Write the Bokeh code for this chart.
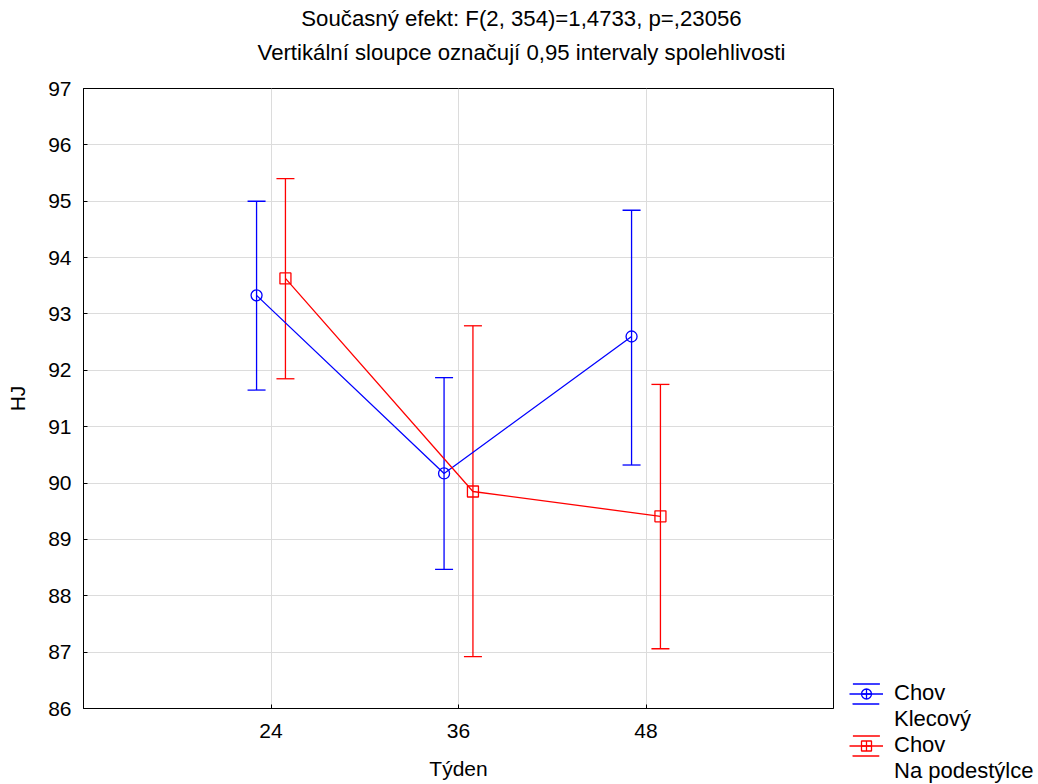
from bokeh.plotting import figure
from bokeh.layouts import column, row
from bokeh.models import (ColumnDataSource, Range1d, FixedTicker, Whisker, TeeHead,
                          Legend, LegendItem, Label)
from bokeh.embed import file_html
from bokeh.resources import INLINE

# ---- data ----
weeks = ["24", "36", "48"]
klec_mean = [93.33, 90.17, 92.60]
klec_low = [91.65, 88.47, 90.32]
klec_high = [95.00, 91.87, 94.84]
pod_mean = [93.63, 89.85, 89.41]
pod_low = [91.85, 86.92, 87.06]
pod_high = [95.40, 92.79, 91.75]
series_labels = [["Chov", "Klecový"], ["Chov", "Na podestýlce"]]
title_lines = ["Současný efekt: F(2, 354)=1,4733, p=,23056",
               "Vertikální sloupce označují 0,95 intervaly spolehlivosti"]
y_ticks = list(range(86, 98))

FONT = "Liberation Sans"
BLUE = "#0000ff"
RED = "#ff0000"
LW = 1.3
TOTAL_W, TOTAL_H = 1038, 784
TITLE_H = 76
MAIN_W = 840


def blank_fig(w, h):
    f = figure(width=w, height=h, output_backend="svg", toolbar_location=None,
               x_range=Range1d(0, w), y_range=Range1d(0, h),
               x_axis_location=None, y_axis_location=None, min_border=0)
    f.outline_line_color = None
    f.xgrid.visible = False
    f.ygrid.visible = False
    f.background_fill_color = "white"
    f.border_fill_color = "white"
    return f


# ---- title strip ----
tfig = blank_fig(TOTAL_W, TITLE_H)
for i, t in enumerate(title_lines):
    tfig.add_layout(Label(x=521, y=TITLE_H - 18 - 34 * i, text=t,
                          text_align="center", text_baseline="middle",
                          text_font=FONT, text_font_size="22.2px", text_color="black"))

# ---- main plot ----
p = figure(width=MAIN_W, height=TOTAL_H - TITLE_H, output_backend="svg",
           toolbar_location=None,
           x_range=Range1d(0, len(weeks) + 1), y_range=Range1d(y_ticks[0], y_ticks[-1]),
           min_border_left=83, min_border_right=MAIN_W - 833, min_border_top=88 - TITLE_H,
           min_border_bottom=76)
p.background_fill_color = "white"
p.border_fill_color = "white"
p.outline_line_color = "black"
p.outline_line_width = 1
p.outline_line_alpha = 1

xs = list(range(1, len(weeks) + 1))
p.xaxis.ticker = FixedTicker(ticks=xs)
p.xaxis.major_label_overrides = {x: w for x, w in zip(xs, weeks)}
p.yaxis.ticker = FixedTicker(ticks=y_ticks)
p.xaxis.axis_label = "Týden"
p.yaxis.axis_label = "HJ"
for ax in p.axis:
    ax.major_tick_in = 4
    ax.major_tick_out = 0
    ax.minor_tick_in = 0
    ax.minor_tick_out = 0
    ax.axis_line_color = "black"
    ax.major_tick_line_color = "black"
    ax.major_label_text_font = FONT
    ax.major_label_text_font_size = "21px"
    ax.major_label_text_color = "black"
    ax.axis_label_text_font = FONT
    ax.axis_label_text_font_size = "21px"
    ax.axis_label_text_font_style = "normal"
    ax.axis_label_text_color = "black"
p.xaxis.major_label_standoff = 15
p.xaxis.axis_label_standoff = 16
p.yaxis.major_label_standoff = 12
p.yaxis.axis_label_standoff = 16
p.grid.grid_line_color = "#dcdcdc"
p.grid.grid_line_width = 1

# ---- legend strip ----
lfig = blank_fig(TOTAL_W - MAIN_W, TOTAL_H - TITLE_H)

off = 0.077
series = [
    (klec_mean, klec_low, klec_high, -off, BLUE, "circle", "circle_cross"),
    (pod_mean, pod_low, pod_high, off, RED, "square", "square_cross"),
]
items = []
for (mean, low, high, dx, col, mk, legmk), labs in zip(series, series_labels):
    src = ColumnDataSource(dict(x=[x + dx for x in xs], mean=mean, low=low, high=high))
    p.line("x", "mean", source=src, line_color=col, line_width=LW)
    wh = Whisker(base="x", upper="high", lower="low", source=src, dimension="height",
                 line_color=col, line_width=LW,
                 upper_head=TeeHead(size=18, line_color=col, line_width=LW),
                 lower_head=TeeHead(size=18, line_color=col, line_width=LW))
    p.add_layout(wh)
    p.scatter("x", "mean", source=src, marker=mk, size=11, line_color=col,
              fill_color=None, line_width=LW)
    # legend-only renderers (hidden), living in the legend strip
    ln = lfig.line("x", "mean", source=src, line_color=col, line_width=LW, visible=False)
    caps = lfig.rect("x", "mean", width=0.1, height=1, source=src, fill_alpha=0,
                     line_color=col, line_width=LW, line_dash="27 21", visible=False)
    lm = lfig.scatter("x", "mean", source=src, marker=legmk, size=11, line_color=col,
                      fill_color=None, line_width=LW, visible=False)
    items.append(LegendItem(label=labs[0], renderers=[ln, caps, lm]))
    items.append(LegendItem(label=labs[1], renderers=[]))

legend = Legend(items=items, location=(9, 0), glyph_width=34, glyph_height=25,
                label_height=26, label_standoff=11, padding=0, margin=0, spacing=0,
                border_line_alpha=0, background_fill_alpha=0,
                label_text_font=FONT, label_text_font_size="22px",
                label_text_color="black")
lfig.add_layout(legend)

layout = column(tfig, row(p, column(lfig, spacing=0), spacing=0), spacing=0)
open("out.html", "w").write(file_html(layout, INLINE, title="chart"))
